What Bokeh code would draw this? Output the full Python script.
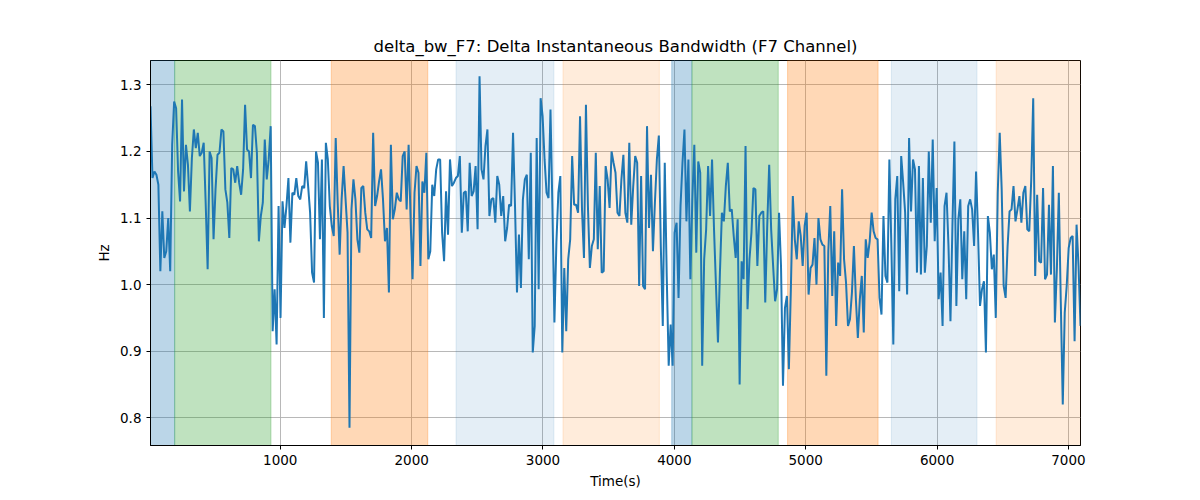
import numpy as np
from bokeh.plotting import figure
from bokeh.models import BoxAnnotation, Range1d, FixedTicker, CustomJSTickFormatter
from bokeh.embed import file_html
from bokeh.resources import INLINE

# sampling: one value every 15 s, starting at t = 12 s
t_start = 12
t_step = 15

delta_bw = [
    1.268, 1.16, 1.17, 1.165, 1.15, 1.02, 1.11, 1.04, 1.05, 1.10,
    1.02, 1.21, 1.275, 1.265, 1.17, 1.125, 1.278, 1.14, 1.21, 1.18,
    1.11, 1.19, 1.233, 1.205, 1.228, 1.193, 1.198, 1.213, 1.123, 1.023,
    1.20, 1.19, 1.068, 1.143, 1.195, 1.198, 1.233, 1.23, 1.143, 1.123,
    1.07, 1.175, 1.173, 1.153, 1.178, 1.153, 1.135, 1.173, 1.27, 1.203,
    1.20, 1.16, 1.24, 1.238, 1.198, 1.065, 1.103, 1.123, 1.218, 1.158,
    1.188, 1.238, 0.93, 0.993, 0.91, 1.118, 0.95, 1.125, 1.085, 1.118,
    1.16, 1.063, 1.138, 1.135, 1.16,
    1.133, 1.128, 1.148, 1.145, 1.185, 1.148, 1.108, 1.018, 1.003, 1.20,
    1.183, 1.068, 1.188, 0.95, 1.213, 1.188, 1.118, 1.088, 1.073, 1.22,
    1.123, 1.045, 1.128, 1.178, 1.128, 1.078, 0.785, 1.113, 1.158, 1.128,
    1.068, 1.048, 1.145, 1.148, 1.108, 1.083, 1.08, 1.07, 1.228, 1.118,
    1.133, 1.155, 1.173, 1.128, 1.065, 1.085, 0.988, 1.21, 1.098, 1.113,
    1.138, 1.128, 1.125, 1.193, 1.20, 1.113, 1.21, 1.098, 1.008, 1.138,
    1.178, 1.168, 1.028, 1.155, 1.138, 1.198, 1.038, 1.05, 1.15, 1.133,
    1.173, 1.188, 1.188, 1.078, 1.035, 1.14,
    1.075, 1.188, 1.148, 1.153, 1.16, 1.163, 1.193, 1.078, 1.138, 1.14,
    1.08, 1.183, 1.133, 1.14, 1.178, 1.083, 1.313, 1.173, 1.158, 1.208,
    1.233, 1.103, 1.128, 1.13, 1.093, 1.163, 1.15, 1.103, 1.133, 1.065,
    1.085, 1.12, 1.118, 1.228, 1.118, 0.988, 1.075, 0.995, 1.128, 1.158,
    1.165, 1.038, 1.198, 0.898, 0.938, 1.22, 0.993, 1.28, 1.253, 1.188,
    1.138, 1.13, 1.263, 1.113, 0.943, 1.063, 1.138, 1.163, 0.898, 1.025,
    0.93, 1.038, 1.068, 1.193, 1.12, 1.12, 1.108, 1.253, 1.113, 1.04,
    1.27, 1.118, 1.025, 1.058, 1.068, 1.198,
    1.053, 1.148, 1.018, 1.02, 1.178, 1.158, 1.115, 1.20, 1.183, 1.168,
    1.108, 1.103, 1.158, 1.195, 1.108, 1.093, 1.213, 1.09, 1.148, 1.193,
    1.183, 0.998, 1.163, 0.998, 0.993, 1.238, 1.085, 1.165, 1.05, 1.123,
    1.188, 1.224, 1.058, 0.938, 1.183, 1.013, 0.878, 0.94, 0.878, 1.078,
    1.093, 0.98, 1.118, 1.183, 1.233, 1.095, 1.188, 1.008, 1.128, 1.21,
    1.048, 1.185, 1.168, 0.878, 1.038, 1.083, 1.178, 1.103, 1.188, 1.083,
    0.998, 0.913, 1.018, 1.108, 1.095, 1.148, 1.183, 1.11, 1.113, 1.073,
    1.04, 1.098, 0.85, 1.035, 1.008, 1.208,
    0.963, 1.038, 1.078, 1.145, 1.143, 1.028, 1.103, 1.108, 1.11, 0.973,
    1.088, 1.18, 1.083, 1.028, 0.975, 0.993, 1.108, 1.028, 0.848, 0.965,
    0.983, 0.873, 0.993, 1.133, 1.068, 1.038, 1.095, 1.073, 1.028, 1.088,
    1.108, 0.985, 1.025, 1.03, 1.07, 1.0, 1.10, 1.068, 1.06, 1.058,
    0.863, 1.05, 1.118, 0.983, 1.08, 0.938, 1.033, 1.013, 1.143, 1.038,
    1.003, 0.938, 0.948, 0.988, 1.058, 0.978, 0.92, 0.978, 1.013, 0.928,
    1.068, 1.04, 1.065, 1.108, 1.08, 1.07, 1.068, 0.98, 0.955, 1.103,
    1.013, 1.003, 1.188, 1.058, 0.91, 1.128,
    1.163, 0.99, 1.193, 1.153, 1.108, 0.985, 1.22, 1.11, 1.188, 1.173,
    1.018, 1.178, 1.015, 1.16, 1.018, 1.058, 1.20, 1.093, 1.218, 1.065,
    1.145, 0.978, 1.018, 0.938, 1.118, 1.138, 1.058, 0.945, 1.088, 1.215,
    0.968, 1.098, 1.128, 1.008, 1.08, 0.978, 1.118, 1.128, 1.113, 1.058,
    1.17, 1.078, 0.968, 0.993, 1.005, 0.898, 1.103, 1.078, 1.023, 1.045,
    0.95, 1.138, 1.228, 1.143, 0.998, 0.98, 1.058, 1.11, 1.113, 1.148,
    1.095, 1.113, 1.133, 1.093, 1.138, 1.148, 1.083, 1.08, 1.158, 1.28,
    1.013, 1.135, 1.035, 1.033, 1.145, 1.008, 1.015, 1.12, 1.015, 1.178,
    0.943, 1.023, 1.138, 0.973, 0.82, 0.958, 0.998, 1.055, 1.07, 1.073,
    0.915, 1.09, 1.028, 0.938,
]

# shaded segments (start, end) and their colours
span_starts = [0, 196, 1388, 2338, 3152, 3980, 4134, 4862, 5652, 6450]
span_ends = [196, 929, 2123, 3083, 3886, 4134, 4791, 5551, 6304, 7200]
span_colors = ['#1f77b4', '#2ca02c', '#ff7f0e', '#1f77b4', '#ff7f0e',
               '#1f77b4', '#2ca02c', '#ff7f0e', '#1f77b4', '#ff7f0e']
span_alphas = [0.3, 0.3, 0.3, 0.12, 0.15, 0.3, 0.3, 0.3, 0.12, 0.15]

x_ticks = [1000, 2000, 3000, 4000, 5000, 6000, 7000]
y_ticks = [0.8, 0.9, 1.0, 1.1, 1.2, 1.3]

times = t_start + t_step * np.arange(len(delta_bw))

p = figure(width=1200, height=500, output_backend="svg", toolbar_location=None,
           title="delta_bw_F7: Delta Instantaneous Bandwidth (F7 Channel)",
           x_range=Range1d(times[0], times[-1]), y_range=Range1d(0.7583, 1.3366),
           min_border_left=150, min_border_right=120, min_border_top=60, min_border_bottom=55)

for s, e, c, a in zip(span_starts, span_ends, span_colors, span_alphas):
    box = BoxAnnotation(left=s, right=e, fill_color=c, fill_alpha=a,
                        line_color=c, line_alpha=a, line_width=1, level='underlay')
    p.add_layout(box)

p.line(times, delta_bw, color='#1f77b4', line_width=2)

p.title.align = "center"
p.title.text_font = "DejaVu Sans"
p.title.text_font_size = "16.5px"
p.title.text_font_style = "normal"
p.title.text_color = "black"

p.xaxis.ticker = FixedTicker(ticks=x_ticks)
p.yaxis.ticker = FixedTicker(ticks=y_ticks)
p.yaxis.formatter = CustomJSTickFormatter(code="return tick.toFixed(1);")

for ax in (p.xaxis, p.yaxis):
    ax.major_label_text_font = "DejaVu Sans"
    ax.major_label_text_font_size = "13.5px"
    ax.major_label_text_color = "black"
    ax.axis_label_text_font = "DejaVu Sans"
    ax.axis_label_text_font_size = "13.5px"
    ax.axis_label_text_font_style = "normal"
    ax.axis_label_text_color = "black"
    ax.axis_line_color = "black"
    ax.major_tick_line_color = "black"
    ax.major_tick_out = 4
    ax.major_tick_in = 0
    ax.minor_tick_line_color = None

p.xaxis.axis_label = "Time(s)"
p.yaxis.axis_label = "Hz"

p.grid.grid_line_color = "#b0b0b0"
p.grid.grid_line_width = 1
p.grid.grid_line_alpha = 0.9
p.outline_line_color = "black"
p.outline_line_alpha = 1
p.background_fill_color = "white"

open("out.html", "w").write(file_html(p, INLINE))
